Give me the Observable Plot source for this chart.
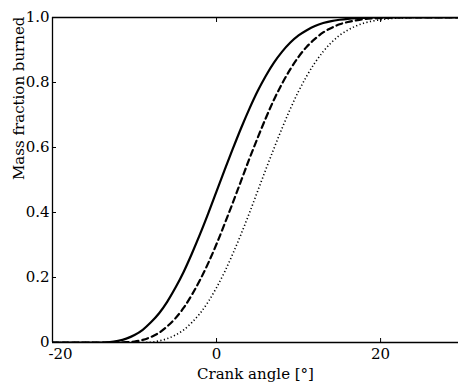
<!DOCTYPE html>
<html><head><meta charset="utf-8">
<script src="https://cdn.jsdelivr.net/npm/d3@7"></script>
<script src="https://cdn.jsdelivr.net/npm/@observablehq/plot@0.6"></script>
<style>body{margin:0;background:#fff;overflow:hidden}</style>
</head><body><div id="chart"></div>
<script>
const angle = [-20,-19,-18,-17,-16,-15,-14,-13,-12,-11,-10,-9,-8,-7,-6,-5,-4,-3,-2,-1,0,1,2,3,4,5,6,7,8,9,10,11,12,13,14,15,16,17,18,19,20,21,22,23,24,25,26,27,28,29,30];
const mfbSolid = [0,0,0,0,0,0,
  0.000,0.001,0.005,0.012,0.023,0.039,0.062,0.090,0.126,0.169,0.218,0.274,0.334,0.398,0.465,0.532,0.597,0.660,0.719,0.773,0.820,0.861,0.895,0.923,0.945,0.961,0.974,0.983,0.989,0.993,0.996,0.998,0.999,
  1,1,1,1,1,1,1,1,1,1,1,1];
const mfbDashed = [0,0,0,0,0,0,0,0,
  0.000,0.001,0.003,0.008,0.017,0.030,0.050,0.075,0.107,0.147,0.193,0.245,0.303,0.366,0.431,0.498,0.565,0.629,0.690,0.747,0.797,0.841,0.879,0.910,0.934,0.954,0.968,0.979,0.986,0.991,0.995,0.997,0.998,0.999,
  1,1,1,1,1,1,1,1,1];
const mfbDotted = [0,0,0,0,0,0,0,0,0,0,0,
  0.000,0.001,0.005,0.012,0.023,0.039,0.062,0.090,0.126,0.169,0.218,0.274,0.334,0.398,0.465,0.532,0.597,0.660,0.719,0.773,0.820,0.861,0.895,0.923,0.945,0.961,0.974,0.983,0.989,0.993,0.996,0.998,0.999,
  1,1,1,1,1,1,1];
const xTicks = [-20, 0, 20];
const xTickLabels = ["-20", "0", "20"];
const yTicks = [0, 0.2, 0.4, 0.6, 0.8, 1.0];
const yTickLabels = ["0", "0.2", "0.4", "0.6", "0.8", "1.0"];
const xLabel = "Crank angle [°]";
const yLabel = "Mass fraction burned";

const rows = (ys) => angle.map((a, i) => ({a, f: ys[i]}));
const xFmt = d => xTickLabels[xTicks.indexOf(d)];
const yFmt = d => yTickLabels[yTicks.indexOf(d)];

const chart = Plot.plot({
  width: 458,
  height: 387,
  marginLeft: 52,
  marginRight: 0,
  marginTop: 17,
  marginBottom: 45,
  style: {fontFamily: "'DejaVu Serif', serif", fontSize: "15px", color: "black", background: "white"},
  x: {domain: [-20, 29.5]},
  y: {domain: [0, 1]},
  marks: [
    Plot.line(rows(mfbDotted), {x: "a", y: "f", stroke: "black", strokeWidth: 1.6, strokeDasharray: "1.2,2.4", strokeLinecap: "butt", curve: "monotone-x", clip: true}),
    Plot.line(rows(mfbDashed), {x: "a", y: "f", stroke: "black", strokeWidth: 2.2, strokeDasharray: "6,4", curve: "monotone-x", clip: true}),
    Plot.line(rows(mfbSolid), {x: "a", y: "f", stroke: "black", strokeWidth: 2.2, curve: "monotone-x", clip: true}),
    Plot.ruleX([-20], {stroke: "black", strokeWidth: 1.3}),
    Plot.ruleY([0, 1], {stroke: "black", strokeWidth: 1.3}),
    Plot.axisY(yTicks, {tickSize: 4, dx: 4, tickFormat: () => "", label: null}),
    Plot.axisY(yTicks, {tickSize: 0, tickPadding: 3, tickFormat: yFmt, label: null, fontSize: 15}),
    Plot.axisX(xTicks, {tickSize: 4, dy: -4, tickFormat: () => "", label: null}),
    Plot.axisX(xTicks, {anchor: "top", tickSize: 4, dy: 4, tickFormat: () => "", label: null}),
    Plot.axisX(xTicks.slice(1), {tickSize: 0, tickPadding: 6, tickFormat: xFmt, label: null, fontSize: 15}),
    Plot.axisX(xTicks.slice(0, 1), {tickSize: 0, tickPadding: 6, tickFormat: xFmt, label: null, textAnchor: "start", dx: -4, fontSize: 15}),
    Plot.text([xLabel], {frameAnchor: "bottom", dy: 36, fontSize: 15, fill: "black"}),
    Plot.text([yLabel], {frameAnchor: "left", rotate: -90, dx: -33, fontSize: 15, fill: "black"})
  ]
});
document.getElementById("chart").append(chart);
</script>
</body></html>
